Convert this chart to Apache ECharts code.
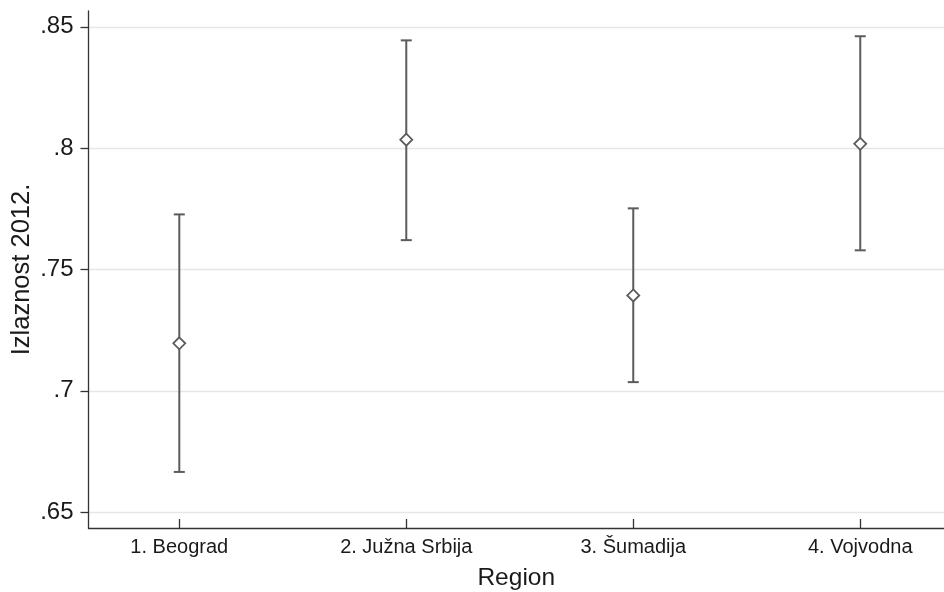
<!DOCTYPE html>
<html>
<head>
<meta charset="utf-8">
<script src="https://cdn.jsdelivr.net/npm/echarts@6/dist/echarts.min.js"></script>
<style>html,body{margin:0;padding:0;background:#fff}#c{width:944px;height:592px}</style>
</head>
<body>
<div id="c"></div>
<script>
const categories = ['1. Beograd', '2. Južna Srbija', '3. Šumadija', '4. Vojvodna'];
const positions = [1, 2, 3, 4];
const means = [0.7196, 0.8035, 0.7393, 0.8018];
const lower = [0.6666, 0.7621, 0.7036, 0.7579];
const upper = [0.7727, 0.8444, 0.7752, 0.8461];
const yTicks = [0.65, 0.7, 0.75, 0.8, 0.85];
const yTickLabels = ['.65', '.7', '.75', '.8', '.85'];

const FONT = '"Liberation Sans", Arial, sans-serif';
const chart = echarts.init(document.getElementById('c'), null, {renderer: 'canvas'});

const barData = positions.map((p, i) => [p, lower[i], upper[i]]);
const meanData = positions.map((p, i) => [p, means[i]]);

chart.setOption({
  animation: false,
  backgroundColor: '#fff',
  grid: {left: 88.5, top: 11, bottom: 64, right: 0, containLabel: false, outerBoundsMode: 'none'},
  xAxis: {
    type: 'value', min: 0.6, max: 4.369,
    name: 'Region', nameLocation: 'middle', nameGap: 38, nameMoveOverlap: false,
    nameTextStyle: {fontFamily: FONT, fontSize: 24.5, color: '#1a1a1a'},
    axisLine: {show: true, lineStyle: {color: '#333', width: 1.3}},
    axisTick: {show: true, inside: true, length: 9, customValues: positions, lineStyle: {color: '#333', width: 1.3}},
    axisLabel: {customValues: positions, margin: 9, fontFamily: FONT, fontSize: 20, color: '#1a1a1a',
      formatter: v => categories[positions.indexOf(Math.round(v))] || ''},
    splitLine: {show: false}
  },
  yAxis: {
    type: 'value', min: 0.6435, max: 0.8565,
    name: 'Izlaznost 2012.', nameLocation: 'middle', nameGap: 54, nameRotate: 90, nameMoveOverlap: false,
    nameTextStyle: {fontFamily: FONT, fontSize: 25.5, color: '#1a1a1a'},
    axisLine: {show: true, lineStyle: {color: '#333', width: 1.3}},
    axisTick: {show: true, length: 8, customValues: yTicks, lineStyle: {color: '#333', width: 1.3}},
    axisLabel: {customValues: yTicks, margin: 15, fontFamily: FONT, fontSize: 24, color: '#1a1a1a',
      formatter: v => { const i = yTicks.findIndex(t => Math.abs(t - v) < 1e-6); return i >= 0 ? yTickLabels[i] : ''; }},
    splitLine: {show: true, lineStyle: {color: '#e6e6e6', width: 1.3}}
  },
  series: [
    {
      type: 'custom',
      data: barData,
      encode: {x: 0, y: [1, 2]},
      renderItem: function (params, api) {
        const x = api.value(0);
        const lo = api.coord([x, api.value(1)]);
        const hi = api.coord([x, api.value(2)]);
        const cap = 5.5;
        const style = {stroke: '#5c5c5c', lineWidth: 2, fill: null};
        return {
          type: 'group',
          children: [
            {type: 'line', shape: {x1: lo[0], y1: lo[1], x2: hi[0], y2: hi[1]}, style: style},
            {type: 'line', shape: {x1: lo[0] - cap, y1: lo[1], x2: lo[0] + cap, y2: lo[1]}, style: style},
            {type: 'line', shape: {x1: hi[0] - cap, y1: hi[1], x2: hi[0] + cap, y2: hi[1]}, style: style}
          ]
        };
      },
      z: 2
    },
    {
      type: 'scatter',
      data: meanData,
      symbol: 'diamond',
      symbolSize: [12, 12],
      itemStyle: {color: '#fff', borderColor: '#5c5c5c', borderWidth: 1.8, opacity: 1},
      z: 3
    }
  ]
});
</script>
</body>
</html>
